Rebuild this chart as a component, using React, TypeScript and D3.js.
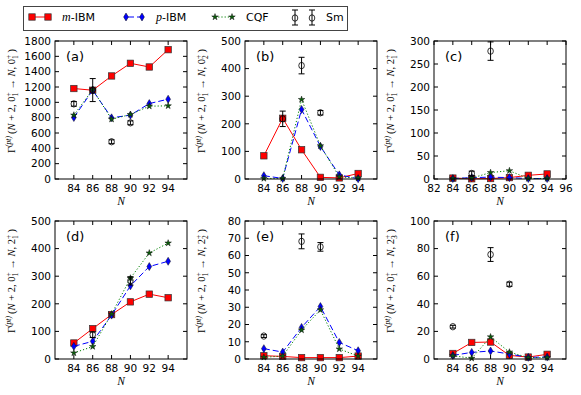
import React, { useEffect, useRef } from "react";
import * as d3 from "d3";

// neutron numbers on the x axis
const neutronN = [84, 86, 88, 90, 92, 94];
const xTicksShort = [84, 86, 88, 90, 92, 94];
const xTicksLong = [82, 84, 86, 88, 90, 92, 94, 96];

const panelTags = ["(a)", "(b)", "(c)", "(d)", "(e)", "(f)"];
const finalSpin = ["0", "0", "2", "2", "2", "2"];
const finalIndex = ["1", "2", "1", "1", "2", "3"];
const yMaxes = [1800, 500, 300, 500, 80, 100];
const ySteps = [200, 100, 50, 100, 10, 20];

// series values, one row per panel
const mIbm = [
  [1180, 1158, 1344, 1509, 1461, 1687],
  [84, 220, 106, 6, 4, 20],
  [2, 0.5, 1, 3, 8, 11],
  [58, 110, 161, 207, 235, 222],
  [1.9, 1.5, 0.8, 0.8, 0.8, 1.7],
  [4, 12, 12.3, 2.6, 1.4, 3.4],
];
const pIbm = [
  [802, 1158, 798, 833, 984, 1041],
  [12, 2, 252, 118, 15, 1],
  [1, 3, 4, 3, 1, 1],
  [46, 64, 159, 265, 335, 354],
  [6, 4, 18.3, 30.4, 9.6, 4.8],
  [2.6, 4.8, 5.8, 3.6, 1.2, 1.4],
];
const cqf = [
  [833, 1166, 780, 841, 950, 954],
  [2, 2, 288, 120, 8, 3],
  [1, 2, 14, 18, 1, 1],
  [22, 45, 163, 293, 384, 420],
  [1, 1.7, 16.8, 28.5, 5.8, 1.7],
  [2.4, 0.5, 16, 5, 1, 1],
];
// experiment (Sm) with error bars
const smN = [[84, 86, 88, 90], [86, 88, 90], [86, 88], [86, 90], [84, 88, 90], [84, 88, 90]];
const smVal = [[980, 1160, 486, 733], [218, 411, 240], [12, 278], [88, 283], [13.3, 68.2, 65], [23.4, 75.7, 54.2]];
const smErr = [[30, 150, 25, 25], [28, 30, 8], [5, 20], [10, 15], [0.8, 4.3, 2.5], [1, 5, 1.5]];

const SANS = "DejaVu Sans";
const MATH = "Liberation Serif";

const W = 132, H = 138;
const lefts = [55, 245, 434];
const tops = [41, 221];

const RED = "#ff0000", BLUE = "#0000ff", GREEN = "#008000", STARFILL = "#0b5d0b";

const diamondPath = (w: number, h: number) => `M0,${-h}L${w},0L0,${h}L${-w},0Z`;
const starPath = d3.symbol().type(d3.symbolStar).size(13)();

const App = () => {
  const svgRef = useRef<SVGSVGElement>(null);

  useEffect(() => {
    const root = d3.select(svgRef.current);
    root.selectAll("*").remove();
    root.append("rect").attr("width", 581).attr("height", 395).attr("fill", "#fff");

    const drawSquare = (g: any, x: number, y: number) =>
      g.append("rect").attr("x", x - 3.2).attr("y", y - 3.2).attr("width", 6.4).attr("height", 6.4)
        .attr("fill", RED).attr("stroke", "#333").attr("stroke-width", 0.7);
    const drawDiamond = (g: any, x: number, y: number) =>
      g.append("path").attr("d", diamondPath(2.4, 4)).attr("transform", `translate(${x},${y})`)
        .attr("fill", BLUE).attr("stroke", "#111").attr("stroke-width", 0.5);
    const drawStar = (g: any, x: number, y: number) =>
      g.append("path").attr("d", starPath).attr("transform", `translate(${x},${y})`)
        .attr("fill", STARFILL).attr("stroke", "#111").attr("stroke-width", 0.5);
    const drawErr = (g: any, x: number, y: number, y0: number, y1: number) => {
      g.append("line").attr("x1", x).attr("x2", x).attr("y1", y0).attr("y2", y1).attr("stroke", "#000").attr("stroke-width", 1);
      [y0, y1].forEach((yy) =>
        g.append("line").attr("x1", x - 3).attr("x2", x + 3).attr("y1", yy).attr("y2", yy).attr("stroke", "#000").attr("stroke-width", 1));
      g.append("ellipse").attr("cx", x).attr("cy", y).attr("rx", 2.8).attr("ry", 3.2).attr("fill", "none").attr("stroke", "#000").attr("stroke-width", 0.8);
    };

    // Panels
    for (let p = 0; p < 6; p++) {
      const left = lefts[p % 3];
      const top = tops[Math.floor(p / 3)];
      const g = root.append("g");

      const x = d3.scaleLinear().domain([82, 96]).range([left, left + W]);
      const y = d3.scaleLinear().domain([0, yMaxes[p]]).range([top + H, top]);
      const yTicks = d3.range(0, yMaxes[p] + 0.001, ySteps[p]);
      const xTicks = p === 2 ? xTicksLong : xTicksShort;

      // ticks, inward on all four sides
      xTicks.forEach((t) => {
        g.append("line").attr("x1", x(t)).attr("x2", x(t)).attr("y1", top + H).attr("y2", top + H - 4).attr("stroke", "#000");
        g.append("line").attr("x1", x(t)).attr("x2", x(t)).attr("y1", top).attr("y2", top + 4).attr("stroke", "#000");
        g.append("text").attr("x", x(t)).attr("y", top + H + 13).attr("text-anchor", "middle")
          .attr("font-family", SANS).attr("font-size", 10.5).text(t);
      });
      yTicks.forEach((t) => {
        g.append("line").attr("x1", left).attr("x2", left + 4).attr("y1", y(t)).attr("y2", y(t)).attr("stroke", "#000");
        g.append("line").attr("x1", left + W).attr("x2", left + W - 4).attr("y1", y(t)).attr("y2", y(t)).attr("stroke", "#000");
        g.append("text").attr("x", left - 4).attr("y", y(t)).attr("dy", "0.36em").attr("text-anchor", "end")
          .attr("font-family", SANS).attr("font-size", 10.5).text(t);
      });

      const line = d3.line<number>().x((_, i) => x(neutronN[i])).y((d) => y(d));

      // m-IBM
      g.append("path").attr("d", line(mIbm[p])).attr("fill", "none").attr("stroke", RED).attr("stroke-width", 1);
      mIbm[p].forEach((v, i) => drawSquare(g, x(neutronN[i]), y(v)));
      // p-IBM
      g.append("path").attr("d", line(pIbm[p])).attr("fill", "none").attr("stroke", BLUE).attr("stroke-width", 1)
        .attr("stroke-dasharray", "6,3");
      pIbm[p].forEach((v, i) => drawDiamond(g, x(neutronN[i]), y(v)));
      // CQF
      g.append("path").attr("d", line(cqf[p])).attr("fill", "none").attr("stroke", GREEN).attr("stroke-width", 1)
        .attr("stroke-dasharray", "1.2,2");
      cqf[p].forEach((v, i) => drawStar(g, x(neutronN[i]), y(v)));
      // Sm
      smN[p].forEach((n, i) => {
        const v = smVal[p][i], e = smErr[p][i];
        drawErr(g, x(n), y(v), y(v - e), y(v + e));
      });

      // frame
      g.append("rect").attr("x", left).attr("y", top).attr("width", W).attr("height", H)
        .attr("fill", "none").attr("stroke", "#000").attr("stroke-width", 1);

      g.append("text").attr("x", left + 11).attr("y", top + 20).attr("font-family", SANS).attr("font-size", 13).text(panelTags[p]);

      g.append("text").attr("x", left + W / 2).attr("y", top + H + 26).attr("text-anchor", "middle")
        .attr("font-family", MATH).attr("font-style", "italic").attr("font-size", 11.5).text("N");

      // y label: Γ^(pt)(N+2,0_1^+ → N,J_k^+)
      const fs = 10.5, sm = 7.5;
      const lab = g.append("text").attr("transform", `translate(${left - 40},${top + H / 2 - 9}) rotate(-90)`)
        .attr("text-anchor", "middle").attr("font-family", MATH).attr("font-size", fs);
      let cur = 0;
      const add = (s: string, o: { shift?: number; size?: number; italic?: boolean; dx?: number } = {}) => {
        const shift = o.shift ?? 0;
        const ts = lab.append("tspan").text(s).attr("dy", shift - cur).attr("font-size", o.size ?? fs)
          .attr("font-style", o.italic ? "italic" : "normal");
        if (o.dx) ts.attr("dx", o.dx);
        cur = shift;
      };
      const SUP = -4.5, SUB = 3;
      add("Γ");
      add("(pt)", { shift: SUP, size: sm, italic: true });
      add("\u2009(");
      add("N", { italic: true });
      add(" + 2, 0");
      add("1", { shift: SUB, size: sm });
      add("+", { shift: SUP, size: sm, dx: -3.7 });
      add(" \u2192 ");
      add("N", { italic: true });
      add(", " + finalSpin[p]);
      add(finalIndex[p], { shift: SUB, size: sm });
      add("+", { shift: SUP, size: sm, dx: -3.7 });
      add("\u2009)");
    }

    // Legend
    const lg = root.append("g");
    lg.append("rect").attr("x", 23.5).attr("y", 6.5).attr("width", 324).attr("height", 24)
      .attr("fill", "#fff").attr("stroke", "#444").attr("stroke-width", 1);
    const ly = 17;
    lg.append("line").attr("x1", 32).attr("x2", 48).attr("y1", ly).attr("y2", ly).attr("stroke", RED);
    drawSquare(lg, 32, ly); drawSquare(lg, 48, ly);
    const mt = lg.append("text").attr("x", 62).attr("y", ly + 4).attr("font-family", SANS).attr("font-size", 11);
    mt.append("tspan").attr("font-family", MATH).attr("font-style", "italic").attr("font-size", 12).text("m");
    mt.append("tspan").text("-IBM");

    lg.append("line").attr("x1", 126).attr("x2", 142).attr("y1", ly).attr("y2", ly).attr("stroke", BLUE).attr("stroke-dasharray", "6,3").attr("stroke-dashoffset", -2);
    drawDiamond(lg, 126, ly); drawDiamond(lg, 142, ly);
    const pt = lg.append("text").attr("x", 156).attr("y", ly + 4).attr("font-family", SANS).attr("font-size", 11);
    pt.append("tspan").attr("font-family", MATH).attr("font-style", "italic").attr("font-size", 12).text("p");
    pt.append("tspan").text("-IBM");

    lg.append("line").attr("x1", 215).attr("x2", 232).attr("y1", ly).attr("y2", ly).attr("stroke", GREEN).attr("stroke-dasharray", "1.2,2");
    drawStar(lg, 215, ly); drawStar(lg, 232, ly);
    lg.append("text").attr("x", 246).attr("y", ly + 4).attr("font-family", SANS).attr("font-size", 11).text("CQF");

    drawErr(lg, 295, ly + 1, ly + 8, ly - 7);
    drawErr(lg, 312, ly + 1, ly + 8, ly - 7);
    lg.append("text").attr("x", 326).attr("y", ly + 4).attr("font-family", SANS).attr("font-size", 11).text("Sm");
  }, []);

  return (
    <svg ref={svgRef} width={581} height={395} style={{ position: "absolute", left: 0, top: 0 }} />
  );
};

export default App;
